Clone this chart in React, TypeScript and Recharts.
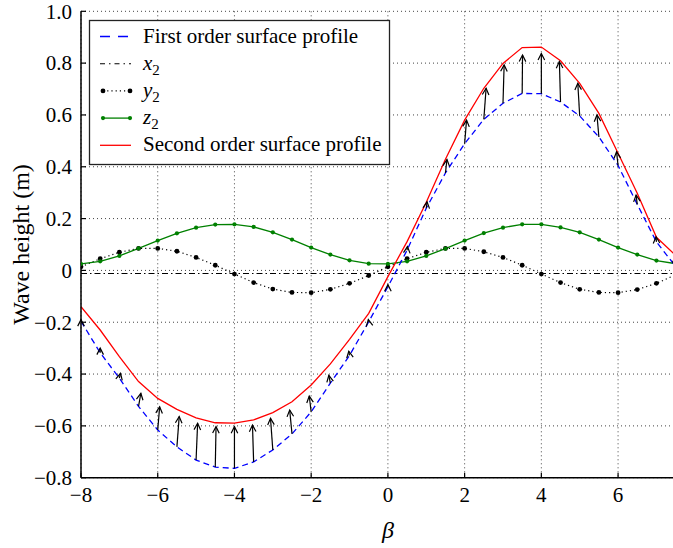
import React from "react";
import { CartesianGrid, Line, LineChart, ReferenceLine, XAxis, YAxis } from "recharts";

// beta positions (sampled every 0.5)
const betas = [
  -8, -7.5, -7, -6.5, -6, -5.5, -5, -4.5, -4, -3.5, -3, -2.5, -2, -1.5, -1, -0.5,
  0, 0.5, 1, 1.5, 2, 2.5, 3, 3.5, 4, 4.5, 5, 5.5, 6, 6.5, 7, 7.5,
];

const firstOrder = [
  -0.196, -0.318, -0.416, -0.525, -0.616, -0.681, -0.732, -0.759, -0.764, -0.739, -0.693, -0.631, -0.546, -0.435, -0.328, -0.198,
  -0.063, 0.078, 0.24, 0.376, 0.489, 0.583, 0.645, 0.683, 0.682, 0.65, 0.596, 0.515, 0.405, 0.255, 0.11, 0.015,
];

const xTwo = [
  -0.012, -0.012, -0.012, -0.012, -0.012, -0.012, -0.012, -0.012, -0.012, -0.012, -0.012, -0.012, -0.012, -0.012, -0.012, -0.012,
  -0.012, -0.012, -0.012, -0.012, -0.012, -0.012, -0.012, -0.012, -0.012, -0.012, -0.012, -0.012, -0.012, -0.012, -0.012, -0.012,
];

const yTwo = [
  0.014, 0.045, 0.07, 0.085, 0.085, 0.074, 0.05, 0.02, -0.014, -0.047, -0.072, -0.085, -0.086, -0.073, -0.05, -0.02,
  0.014, 0.045, 0.07, 0.085, 0.085, 0.072, 0.05, 0.02, -0.014, -0.047, -0.073, -0.085, -0.086, -0.074, -0.05, -0.017,
];

const zTwo = [
  0.025, 0.035, 0.056, 0.085, 0.115, 0.143, 0.165, 0.177, 0.178, 0.168, 0.147, 0.119, 0.088, 0.061, 0.039, 0.026,
  0.025, 0.035, 0.056, 0.084, 0.115, 0.144, 0.165, 0.178, 0.178, 0.166, 0.147, 0.119, 0.088, 0.061, 0.038, 0.026,
];

const secondOrder = [
  -0.14, -0.23, -0.333, -0.429, -0.494, -0.536, -0.569, -0.588, -0.589, -0.577, -0.549, -0.507, -0.442, -0.361, -0.266, -0.166,
  -0.024, 0.111, 0.263, 0.429, 0.58, 0.703, 0.799, 0.86, 0.862, 0.809, 0.722, 0.606, 0.452, 0.298, 0.128, 0.058,
];

// arrows: tail on the first order profile, head at (beta + shift, tip)
const arrowTip = [
  -0.19, -0.3, -0.397, -0.474, -0.526, -0.564, -0.59, -0.603, -0.603, -0.597, -0.571, -0.539, -0.485, -0.405, -0.312, -0.19,
  -0.055, 0.092, 0.265, 0.428, 0.58, 0.703, 0.793, 0.831, 0.837, 0.806, 0.722, 0.6, 0.458, 0.291, 0.13, 0.055,
];
const arrowShift = [
  0, 0, 0.03, 0.06, 0.05, 0.06, 0.04, 0.02, 0, -0.03, -0.06, -0.06, -0.05, -0.04, -0.02, -0.01,
  0, 0.01, 0.02, 0.04, 0.05, 0.06, 0.03, 0.01, 0, -0.03, -0.05, -0.05, -0.04, -0.03, -0.01, 0,
];

const xTicks = [-8, -6, -4, -2, 0, 2, 4, 6];
const xTickLabels = ["\u22128", "\u22126", "\u22124", "\u22122", "0", "2", "4", "6"];
const yTicks = [-0.8, -0.6, -0.4, -0.2, 0, 0.2, 0.4, 0.6, 0.8, 1.0];
const yTickLabels = ["\u22120.8", "\u22120.6", "\u22120.4", "\u22120.2", "0", "0.2", "0.4", "0.6", "0.8", "1.0"];

const SERIF = '"Liberation Serif", "Times New Roman", serif';

const data = betas.map((beta, i) => ({
  beta,
  first: firstOrder[i],
  x2: xTwo[i],
  y2: yTwo[i],
  z2: zTwo[i],
  second: secondOrder[i],
}));

const YTick = (p: any) => {
  const { x, y, payload } = p;
  return (
    <g>
      <line x1={x} y1={y} x2={x + 5} y2={y} stroke="#000" strokeWidth={1.2} />
      <text x={x - 9} y={y} dy="0.35em" textAnchor="end" fontFamily={SERIF} fontSize={21} fill="#000">
        {yTickLabels[yTicks.indexOf(payload.value)]}
      </text>
    </g>
  );
};

const XTick = (p: any) => {
  const { x, y, payload } = p;
  return (
    <g>
      <line x1={x} y1={y} x2={x} y2={y - 5} stroke="#000" strokeWidth={1.2} />
      <text x={x} y={y + 24} textAnchor="middle" fontFamily={SERIF} fontSize={21} fill="#000">
        {xTickLabels[xTicks.indexOf(payload.value)]}
      </text>
    </g>
  );
};

const TopTick = (p: any) => {
  const { x, y } = p;
  return <line x1={x} y1={y} x2={x} y2={y + 5} stroke="#000" strokeWidth={1.2} />;
};

const Arrow = (p: any) => {
  const { x1, y1, x2, y2 } = p;
  const dx = x2 - x1;
  const dy = y2 - y1;
  const len = Math.hypot(dx, dy);
  let ux = 0;
  let uy = -1;
  if (len > 0.5) {
    ux = dx / len;
    uy = dy / len;
  }
  const hl = 6.5;
  const hw = 3.3;
  const bx = x2 - ux * hl;
  const by = y2 - uy * hl;
  const px = -uy;
  const py = ux;
  return (
    <g>
      <line x1={x1} y1={y1} x2={x2} y2={y2} stroke="#000" strokeWidth={1.2} />
      <polyline
        points={`${bx + px * hw},${by + py * hw} ${x2},${y2} ${bx - px * hw},${by - py * hw}`}
        fill="none"
        stroke="#000"
        strokeWidth={1.2}
      />
    </g>
  );
};

const YLabel = (p: any) => {
  const { viewBox } = p;
  const cx = viewBox.x + 10;
  const cy = viewBox.y + viewBox.height / 2;
  return (
    <text x={cx} y={cy} transform={`rotate(-90 ${cx} ${cy})`} dy="0.35em" textAnchor="middle" fontFamily={SERIF} fontSize={24} fill="#000">
      Wave height (m)
    </text>
  );
};

const XLabel = (p: any) => {
  const { viewBox } = p;
  return (
    <text x={viewBox.x + viewBox.width / 2} y={viewBox.y + 60} textAnchor="middle" fontFamily={SERIF} fontStyle="italic" fontSize={24} fill="#000">
      β
    </text>
  );
};

const Sub = ({ letter }: { letter: string }) => (
  <>
    <tspan fontStyle="italic">{letter}</tspan>
    <tspan fontSize={15} dy={5}>2</tspan>
  </>
);

const LegendBox = () => {
  const rows = [36.5, 63.7, 90.9, 118.1, 145.3];
  return (
    <svg width={673} height={548} style={{ position: "absolute", left: 0, top: 0, pointerEvents: "none" }}>
      <rect x={89.5} y={20.5} width={300} height={144} fill="#fff" stroke="#222" strokeWidth={1.3} />
      <line x1={100} y1={rows[0]} x2={131} y2={rows[0]} stroke="#0000ff" strokeWidth={1.3} strokeDasharray="10 8" />
      <line x1={100} y1={rows[1]} x2={131} y2={rows[1]} stroke="#000" strokeWidth={1.1} strokeDasharray="5 4 1.5 4" />
      <line x1={103} y1={rows[2]} x2={130} y2={rows[2]} stroke="#000" strokeWidth={1.1} strokeDasharray="1.2 3" />
      <circle cx={103} cy={rows[2]} r={2.4} fill="#000" />
      <circle cx={130} cy={rows[2]} r={2.4} fill="#000" />
      <line x1={103} y1={rows[3]} x2={130} y2={rows[3]} stroke="#008000" strokeWidth={1.3} />
      <circle cx={103} cy={rows[3]} r={2.1} fill="#008000" />
      <circle cx={130} cy={rows[3]} r={2.1} fill="#008000" />
      <line x1={100} y1={rows[4]} x2={131} y2={rows[4]} stroke="#ff0000" strokeWidth={1.3} />
      <g fontFamily={SERIF} fontSize={21} fill="#000">
        <text x={143} y={rows[0] + 6}>First order surface profile</text>
        <text x={143} y={rows[1] + 6}>
          <Sub letter="x" />
        </text>
        <text x={143} y={rows[2] + 6}>
          <Sub letter="y" />
        </text>
        <text x={143} y={rows[3] + 6}>
          <Sub letter="z" />
        </text>
        <text x={143} y={rows[4] + 6}>Second order surface profile</text>
      </g>
    </svg>
  );
};

const App = () => {
  return (
    <div style={{ position: "absolute", left: 0, top: 0, width: 673, height: 548, overflow: "hidden", background: "#fff" }}>
      <LineChart
        width={700}
        height={548}
        data={data}
        margin={{ top: 11.3, right: 5.2, left: 11, bottom: 0.3 }}
      >
        <CartesianGrid stroke="#444" strokeDasharray="1 3" strokeWidth={1} />
        <XAxis
          dataKey="beta"
          type="number"
          domain={[-8, 8]}
          ticks={xTicks}
          interval={0}
          allowDataOverflow
          height={70}
          tickSize={0}
          tickMargin={0}
          tick={<XTick />}
          axisLine={{ stroke: "#000", strokeWidth: 1.5 }}
          label={<XLabel />}
        />
        <XAxis
          xAxisId="top"
          orientation="top"
          dataKey="beta"
          type="number"
          domain={[-8, 8]}
          ticks={xTicks}
          interval={0}
          allowDataOverflow
          height={0}
          tickSize={0}
          tickMargin={0}
          tick={<TopTick />}
          axisLine={{ stroke: "#000", strokeWidth: 1.5 }}
        />
        <YAxis
          type="number"
          domain={[-0.8, 1.0]}
          ticks={yTicks}
          interval={0}
          allowDataOverflow
          width={70}
          tickSize={0}
          tickMargin={0}
          tick={<YTick />}
          axisLine={{ stroke: "#000", strokeWidth: 1.5 }}
          label={<YLabel />}
        />
        <Line dataKey="x2" type="linear" stroke="#000" strokeWidth={1.1} strokeDasharray="6 3 1.5 3" dot={false} isAnimationActive={false} />
        <Line
          dataKey="y2"
          type="linear"
          stroke="#000"
          strokeWidth={1.2}
          strokeDasharray="1.2 3"
          dot={{ r: 2.4, fill: "#000", stroke: "#000", strokeWidth: 0, strokeDasharray: "0" }}
          isAnimationActive={false}
        />
        <Line
          dataKey="z2"
          type="linear"
          stroke="#008000"
          strokeWidth={1.3}
          dot={{ r: 2.1, fill: "#008000", stroke: "#008000", strokeWidth: 0 }}
          isAnimationActive={false}
        />
        <Line dataKey="first" type="linear" stroke="#0000ff" strokeWidth={1.3} strokeDasharray="6 4" dot={false} isAnimationActive={false} />
        <Line dataKey="second" type="linear" stroke="#ff0000" strokeWidth={1.3} dot={false} isAnimationActive={false} />
        {betas.map((b, i) => (
          <ReferenceLine
            key={`arrow-${b}`}
            segment={[
              { x: b, y: firstOrder[i] },
              { x: b + arrowShift[i], y: arrowTip[i] },
            ]}
            ifOverflow="visible"
            shape={Arrow}
          />
        ))}
      </LineChart>
      <LegendBox />
    </div>
  );
};

export default App;
